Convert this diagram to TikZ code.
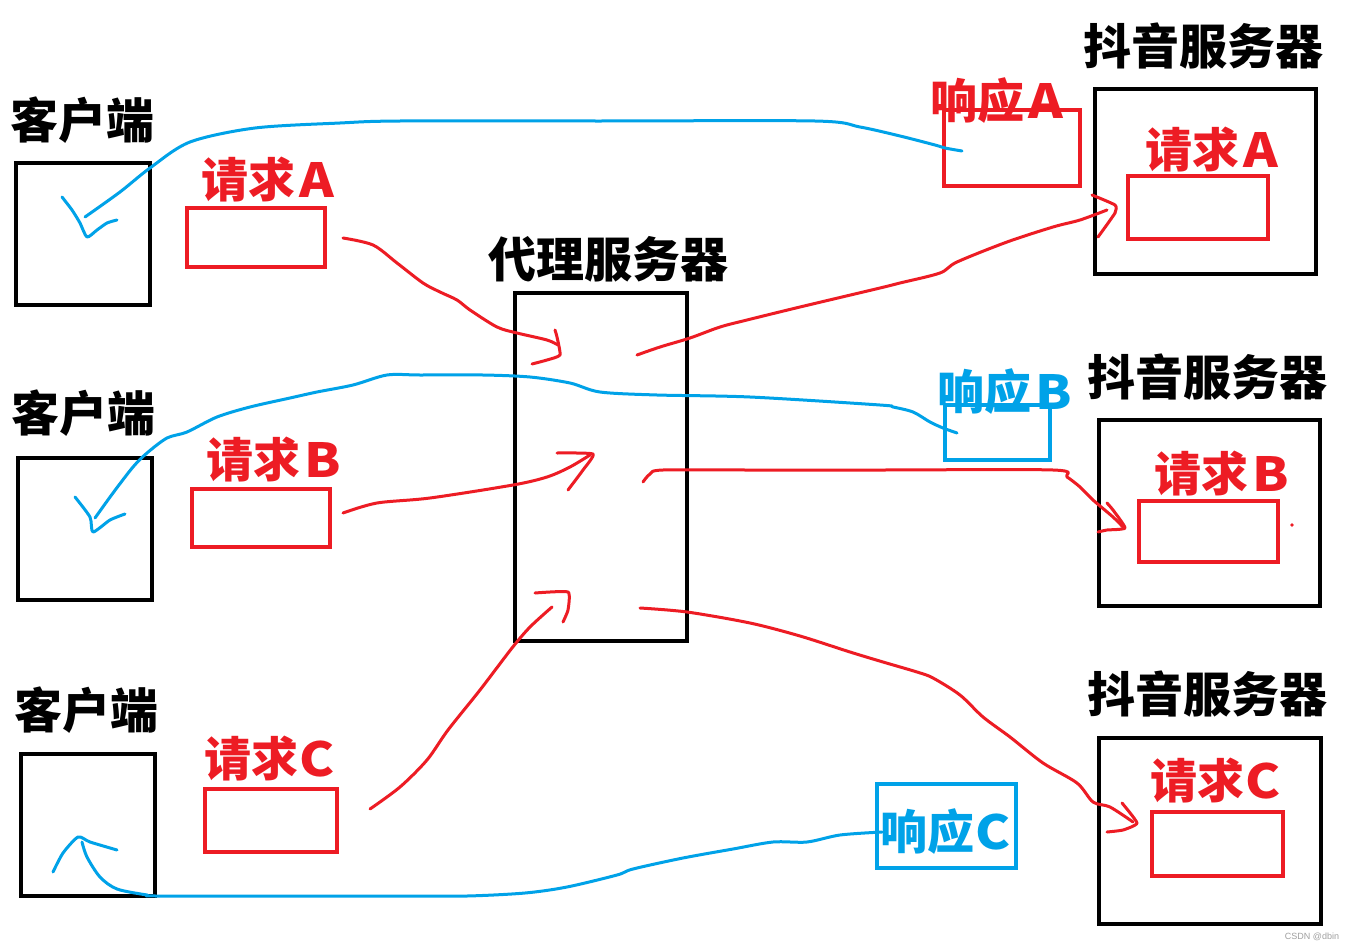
\documentclass[tikz,border=0pt]{standalone}
\usepackage{fontspec}
\newfontfamily\cjk{Noto Sans CJK SC}
\newfontfamily\wmfont{Liberation Sans}
\definecolor{pred}{HTML}{ED1C24}
\definecolor{pblue}{HTML}{00A2E8}
\definecolor{wmgray}{HTML}{A0A0A0}
\newcommand{\lt}[1]{\kern4pt\scalebox{1.12}[1]{#1}}
\newcommand{\ltc}[1]{\kern1pt\scalebox{1.12}[1]{#1}}
\tikzset{
  blkbox/.style={draw=black, line width=4pt, inner sep=0pt, outer sep=0pt},
  redbox/.style={draw=pred, line width=3.6pt, inner sep=0pt, outer sep=0pt},
  bluebox/.style={draw=pblue, line width=3.6pt, inner sep=0pt, outer sep=0pt},
  blklbl/.style={font=\cjk\bfseries\fontsize{48}{50}\selectfont, text=black, inner sep=0pt, text height=38.4pt, text depth=1.9pt},
  redlbl/.style={font=\cjk\bfseries\fontsize{47}{49}\selectfont, text=pred, inner sep=0pt, text height=37.6pt, text depth=1.9pt},
  bluelbl/.style={font=\cjk\bfseries\fontsize{47}{49}\selectfont, text=pblue, inner sep=0pt, text height=37.6pt, text depth=1.9pt},
  redpen/.style={draw=pred, line width=3pt, line cap=round, line join=round},
  bluepen/.style={draw=pblue, line width=3pt, line cap=round, line join=round},
}
\begin{document}
\begin{tikzpicture}[x=1pt,y=-1pt]
\useasboundingbox[fill=white] (0,0) rectangle (1354,950);

% black boxes
\node[blkbox, minimum width=134pt, minimum height=142pt] (c1) at (83,234) {};
\node[blkbox, minimum width=134pt, minimum height=142pt] (c2) at (85,529) {};
\node[blkbox, minimum width=134pt, minimum height=142pt] (c3) at (88,825) {};
\node[blkbox, minimum width=172pt, minimum height=348pt] (proxy) at (601,467) {};
\node[blkbox, minimum width=221pt, minimum height=185pt] (s1) at (1205.5,181.5) {};
\node[blkbox, minimum width=221pt, minimum height=186pt] (s2) at (1209.5,513) {};
\node[blkbox, minimum width=222pt, minimum height=186pt] (s3) at (1210,831) {};

% red / blue boxes
\node[redbox, minimum width=138pt, minimum height=59pt] (rA) at (256,237.5) {};
\node[redbox, minimum width=138pt, minimum height=58pt] (rB) at (261,518) {};
\node[redbox, minimum width=132pt, minimum height=63pt] (rC) at (271,820.5) {};
\node[redbox, minimum width=136pt, minimum height=76pt] (respA) at (1012,148) {};
\node[redbox, minimum width=140pt, minimum height=63pt] (sA) at (1198,207.5) {};
\node[bluebox, minimum width=105pt, minimum height=55pt] (respB) at (997.5,432.5) {};
\node[redbox, minimum width=139pt, minimum height=61pt] (sB) at (1208.5,531.5) {};
\node[bluebox, minimum width=139pt, minimum height=84pt] (respC) at (946.5,826) {};
\node[redbox, minimum width=131pt, minimum height=64pt] (sC) at (1217.5,844) {};

% black labels
\node[blklbl] (lc1) at (82,120) {客户端};
\node[blklbl] (lc2) at (83,413) {客户端};
\node[blklbl] (lc3) at (86,710) {客户端};
\node[blklbl] (lproxy) at (608,259) {代理服务器};
\node[blklbl] (ls1) at (1203,46) {抖音服务器};
\node[blklbl] (ls2) at (1207,377) {抖音服务器};
\node[blklbl] (ls3) at (1207,694) {抖音服务器};

% colored labels
\node[redlbl] (lrA) at (268,180) {请求\lt{A}};
\node[redlbl] (lrB) at (274,460) {请求\lt{B}};
\node[redlbl] (lrC) at (270,759) {请求\ltc{C}};
\node[redlbl] (lrespA) at (997,101) {响应\lt{A}};
\node[redlbl] (lsA) at (1212,150) {请求\lt{A}};
\node[bluelbl] (lrespB) at (1005,392) {响应\lt{B}};
\node[redlbl] (lsB) at (1222,474) {请求\lt{B}};
\node[bluelbl] (lrespC) at (946,832) {响应\ltc{C}};
\node[redlbl] (lsC) at (1216,781) {请求\ltc{C}};

% small red dot
\fill[pred] (1292,525) circle (1.8pt);

% watermark
\node[font=\wmfont\fontsize{9}{10}\selectfont, text=wmgray, inner sep=0pt] (wm) at (1312,937) {CSDN @dbin};

% connector end points
\coordinate (bAs) at (962,151);
\coordinate (bAe) at (85,217);
\coordinate (rAs) at (343,238);
\coordinate (rAe) at (558,345);
\coordinate (rAos) at (637,355);
\coordinate (rAoe) at (1107,210);
\coordinate (bBs) at (957,433);
\coordinate (bBe) at (95,518);
\coordinate (rBs) at (343,513);
\coordinate (rBe) at (590,455);
\coordinate (rBos) at (643,482);
\coordinate (rBoe) at (1123,527);
\coordinate (rCs) at (370,809);
\coordinate (rCe) at (552,607);
\coordinate (rCos) at (640,608);
\coordinate (rCoe) at (1133,822);
\coordinate (bCs) at (882,832);
\coordinate (bCe) at (82,842);

% response A (blue)
\draw[bluepen] plot[smooth, tension=0.5] coordinates {(bAs) (945,148) (935,145) (900,136) (860,127) (815,121) (600,121) (400,121) (340,123) (255,128) (190,142) (150,168) (120,192) (bAe)};
\draw[bluepen] plot[smooth, tension=0.4] coordinates {(62,197) (72,210) (80,223) (87,237) (97,230) (107,223) (117,220)};

% request A
\draw[redpen] plot[smooth, tension=0.5] coordinates {(rAs) (373,245) (397,263) (423,283) (440,292) (457,300) (470,310) (497,327) (517,333) (547,340) (rAe)};
\draw[redpen] plot[smooth, tension=0.3] coordinates {(555,330) (557,337) (560,355) (547,360) (532,364)};
\draw[redpen] plot[smooth, tension=0.5] coordinates {(rAos) (660,347) (690,338) (720,327) (747,320) (800,307) (880,288) (900,283) (940,273) (957,262) (1007,242) (1053,227) (1080,220) (rAoe)};
\draw[redpen] plot[smooth, tension=0.3] coordinates {(1092,195) (1115,205) (1115,213) (1098,237)};

% response B (blue)
\draw[bluepen] plot[smooth, tension=0.5] coordinates {(bBs) (943,428) (930,422) (913,412) (893,407) (880,405) (750,397) (657,395) (600,392) (570,383) (530,377) (483,375) (420,375) (387,375) (353,385) (317,392) (290,398) (250,407) (217,417) (187,432) (167,438) (147,453) (133,467) (113,493) (bBe)};
\draw[bluepen] plot[smooth, tension=0.4] coordinates {(75,497) (90,517) (93,532) (110,520) (125,514)};

% request B
\draw[redpen] plot[smooth, tension=0.5] coordinates {(rBs) (377,503) (430,498) (513,485) (547,477) (570,467) (rBe)};
\draw[redpen] plot[smooth, tension=0.3] coordinates {(557,453) (593,454) (583,470) (568,490)};
\draw[redpen] plot[smooth, tension=0.5] coordinates {(rBos) (650,474) (663,470) (750,470) (880,470) (1053,470) (1067,477) (1080,487) (1093,500) (1113,517) (rBoe)};
\draw[redpen] plot[smooth, tension=0.3] coordinates {(1107,503) (1113,510) (1125,528) (1107,530) (1098,532)};

% request C
\draw[redpen] plot[smooth, tension=0.5] coordinates {(rCs) (400,787) (427,760) (448,730) (480,690) (512,648) (530,627) (rCe)};
\draw[redpen] plot[smooth, tension=0.3] coordinates {(535,593) (568,592) (568,610) (563,622)};
\draw[redpen] plot[smooth, tension=0.5] coordinates {(rCos) (687,612) (750,623) (800,636) (850,652) (883,662) (917,672) (933,678) (960,695) (983,717) (1010,737) (1043,763) (1077,783) (1093,802) (1110,807) (rCoe)};
\draw[redpen] plot[smooth, tension=0.3] coordinates {(1122,803) (1137,823) (1123,830) (1107,832)};

% response C (blue)
\draw[bluepen] plot[smooth, tension=0.5] coordinates {(bCs) (840,835) (807,842) (773,842) (733,849) (683,858) (633,869) (617,875) (567,887) (525,893) (467,896) (400,896) (300,896) (157,896) (147,895) (117,889) (100,877) (87,857) (bCe)};
\draw[bluepen] plot[smooth, tension=0.4] coordinates {(53,872) (63,853) (78,837) (90,842) (117,850)};
\end{tikzpicture}
\end{document}
